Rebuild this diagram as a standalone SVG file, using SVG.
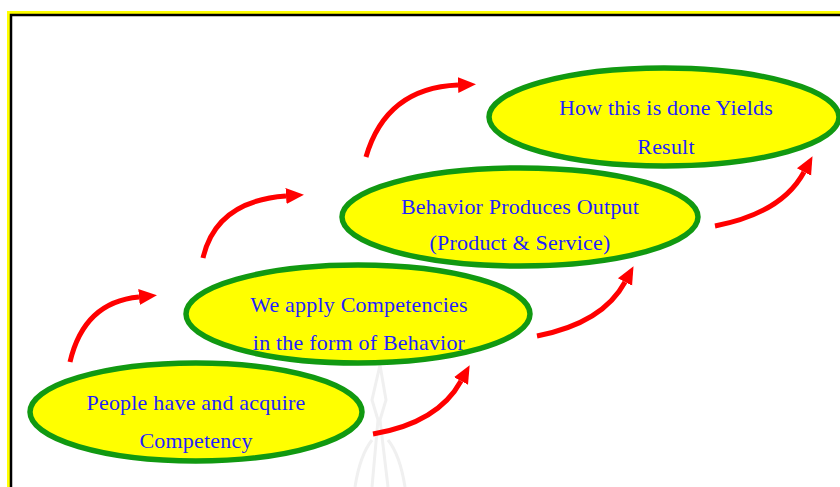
<svg xmlns="http://www.w3.org/2000/svg" width="840" height="487" viewBox="0 0 840 487">
  <style>
    .node ellipse { fill: #ffff00; stroke: #119911; stroke-width: 5.5; }
    .node text { font-family: "Liberation Serif", "Times New Roman", serif; font-size: 22px; letter-spacing: 0.2px; fill: #1f1fff; text-anchor: middle; }
    .arrow { fill: none; stroke: #ff0000; stroke-width: 5; }
    .mark { fill: none; stroke: #f0f0f0; stroke-width: 3; }
  </style>
  <defs>
    <marker id="head" markerUnits="userSpaceOnUse" markerWidth="20" markerHeight="18" refX="0" refY="8" orient="auto" viewBox="0 0 20 16">
      <path d="M0,0 L18,8 L0,16 z" fill="#ff0000"/>
    </marker>
  </defs>

  <!-- page frame -->
  <rect x="0" y="0" width="840" height="487" fill="#ffffff"/>
  <path d="M8.5,487 V12.5 H840" fill="none" stroke="#ffff00" stroke-width="3"/>
  <path d="M11,487 V15 H840" fill="none" stroke="#000000" stroke-width="2.5"/>

  <!-- faint background emblem -->
  <g id="emblem">
    <path class="mark" d="M372,487 L378,420 L372,400 L380,365 L386,400 L380,420 L388,487"/>
    <path class="mark" d="M355,487 Q360,455 372,440 M405,487 Q400,455 388,440"/>
  </g>

  <!-- connectors -->
  <g id="connectors">
    <path class="arrow" d="M70,362 Q84,302 139,297" marker-end="url(#head)"/>
    <path class="arrow" d="M203,258 Q216,201 286,196" marker-end="url(#head)"/>
    <path class="arrow" d="M366,157 Q386,88 458,85" marker-end="url(#head)"/>
    <path class="arrow" d="M373,434 Q438,423 461,381" marker-end="url(#head)"/>
    <path class="arrow" d="M537,336 Q603,323 625,282" marker-end="url(#head)"/>
    <path class="arrow" d="M715,226 Q782,213 804,172" marker-end="url(#head)"/>
  </g>

  <!-- nodes -->
  <g id="node-competency" class="node">
    <ellipse cx="196" cy="412" rx="166" ry="49"/>
    <text x="196" y="410">People have and acquire</text>
    <text x="196" y="448">Competency</text>
  </g>
  <g id="node-behavior" class="node">
    <ellipse cx="358" cy="314" rx="172" ry="49"/>
    <text x="359" y="312">We apply Competencies</text>
    <text x="359" y="350">in the form of Behavior</text>
  </g>
  <g id="node-output" class="node">
    <ellipse cx="520" cy="217" rx="178" ry="49"/>
    <text x="520" y="214">Behavior Produces Output</text>
    <text x="520" y="250">(Product &amp; Service)</text>
  </g>
  <g id="node-result" class="node">
    <ellipse cx="664" cy="117" rx="175" ry="49"/>
    <text x="666" y="115">How this is done Yields</text>
    <text x="666" y="154">Result</text>
  </g>
</svg>
